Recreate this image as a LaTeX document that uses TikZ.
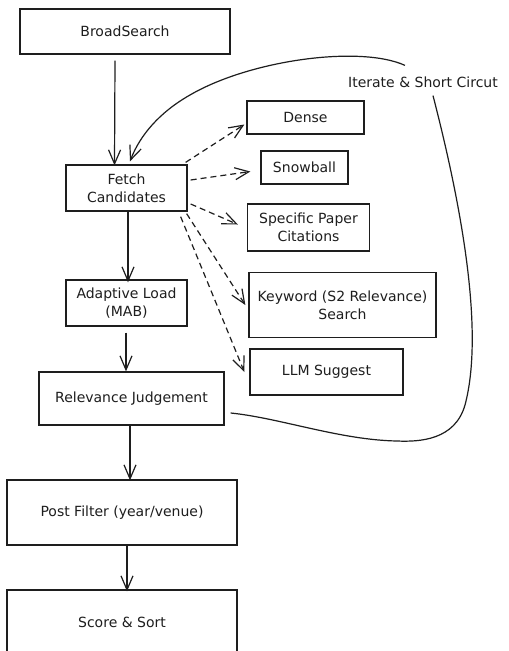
\documentclass[tikz,border=0pt]{standalone}
\usepackage{fontspec}
\setmainfont{DejaVu Sans}
\usetikzlibrary{arrows.meta}
\definecolor{ink}{HTML}{1E1E1E}
\begin{document}
\begin{tikzpicture}[x=1pt,y=-1pt,
  box/.style={draw=ink,line width=1.3pt,text=ink,align=center,inner sep=0pt,
    font=\fontsize{14}{18}\selectfont},
  lbl/.style={text=ink,inner sep=0pt,font=\fontsize{14}{18}\selectfont},
  plain/.style={draw=ink,line width=1.2pt},
  arr/.style={draw=ink,line width=1.2pt,-{Straight Barb[length=14pt,width=12pt,line width=1.2pt]}},
  darr/.style={arr,dash pattern=on 6pt off 4pt},
  ]
\useasboundingbox (0,0) rectangle (509,651);
\clip (0,0) rectangle (509,651);
\fill[white] (0,0) rectangle (509,651);

\node[box,minimum width=210pt,minimum height=45pt] (bs) at (125,31.5) {BroadSearch};
\node[box,minimum width=121pt,minimum height=46pt] (fc) at (126.5,188) {Fetch\\Candidates};
\node[box,minimum width=117pt,minimum height=33pt] (dn) at (305.5,117.5) {Dense};
\node[box,minimum width=87pt,minimum height=33pt] (sb) at (304.5,167.5) {Snowball};
\node[box,minimum width=122pt,minimum height=47pt] (sp) at (308.5,227.5) {Specific Paper\\Citations};
\node[box,minimum width=187pt,minimum height=65pt] (kw) at (342.5,305) {Keyword (S2 Relevance)\\Search};
\node[box,minimum width=153pt,minimum height=46pt] (ll) at (326.5,372) {LLM Suggest};
\node[box,minimum width=121pt,minimum height=46pt] (al) at (126.5,303) {Adaptive Load\\(MAB)};
\node[box,minimum width=185pt,minimum height=53pt] (rj) at (131.5,398.5) {Relevance Judgement};
\node[box,minimum width=230pt,minimum height=65pt] (pf) at (122,512.5) {Post Filter (year/venue)};
\node[box,minimum width=230pt,minimum height=64pt] (ss) at (122,622) {Score \& Sort};
\node[lbl] (it) at (423,82) {Iterate \& Short Circut};

% main flow
\draw[arr] ([shift={(-10,6)}]bs.south) -- ([xshift=-12,yshift=-1]fc.north);
\draw[arr] ([xshift=1.5]fc.south) -- ([xshift=1.5,yshift=-3]al.north);
\draw[arr] ([shift={(-0.5,6)}]al.south) -- ([xshift=-5.5]rj.north);
\draw[arr] ([xshift=-1.5]rj.south) -- ([xshift=8,yshift=-1]pf.north);
\draw[arr] ([xshift=5]pf.south) -- ([xshift=5,yshift=-2]ss.north);

% dashed fan-out
\draw[darr] ([shift={(-2,-2)}]fc.north east) -- ([shift={(-2,7)}]dn.west);
\draw[darr] ([shift={(3,-8)}]fc.east) -- ([shift={(-10,4)}]sb.west);
\draw[darr] ([shift={(3,16)}]fc.east) -- ([shift={(-9,-3)}]sp.west);
\draw[darr] ([shift={(-1,2)}]fc.south east) -- ([xshift=-3]kw.west);
\draw[darr] ([shift={(-7,5)}]fc.south east) -- ([xshift=-5]ll.west);

% feedback loop
\coordinate (la) at ([shift={(6,14.5)}]rj.east);
\coordinate (lb) at ([shift={(10,8)}]it.south);
\coordinate (lc) at ([shift={(-18,-11)}]it.north);
\coordinate (ld) at ([shift={(3.5,-3)}]fc.north);
\draw[plain] (la) .. controls (280,418) and (340,440) .. (397,441)
  .. controls (420,442) and (455,440) .. (465,405)
  .. controls (485,330) and (460,200) .. (lb);
\draw[arr] (lc) .. controls (360,45) and (250,60) .. (190,95)
  .. controls (160,112) and (140,135) .. (ld);
\end{tikzpicture}
\end{document}
